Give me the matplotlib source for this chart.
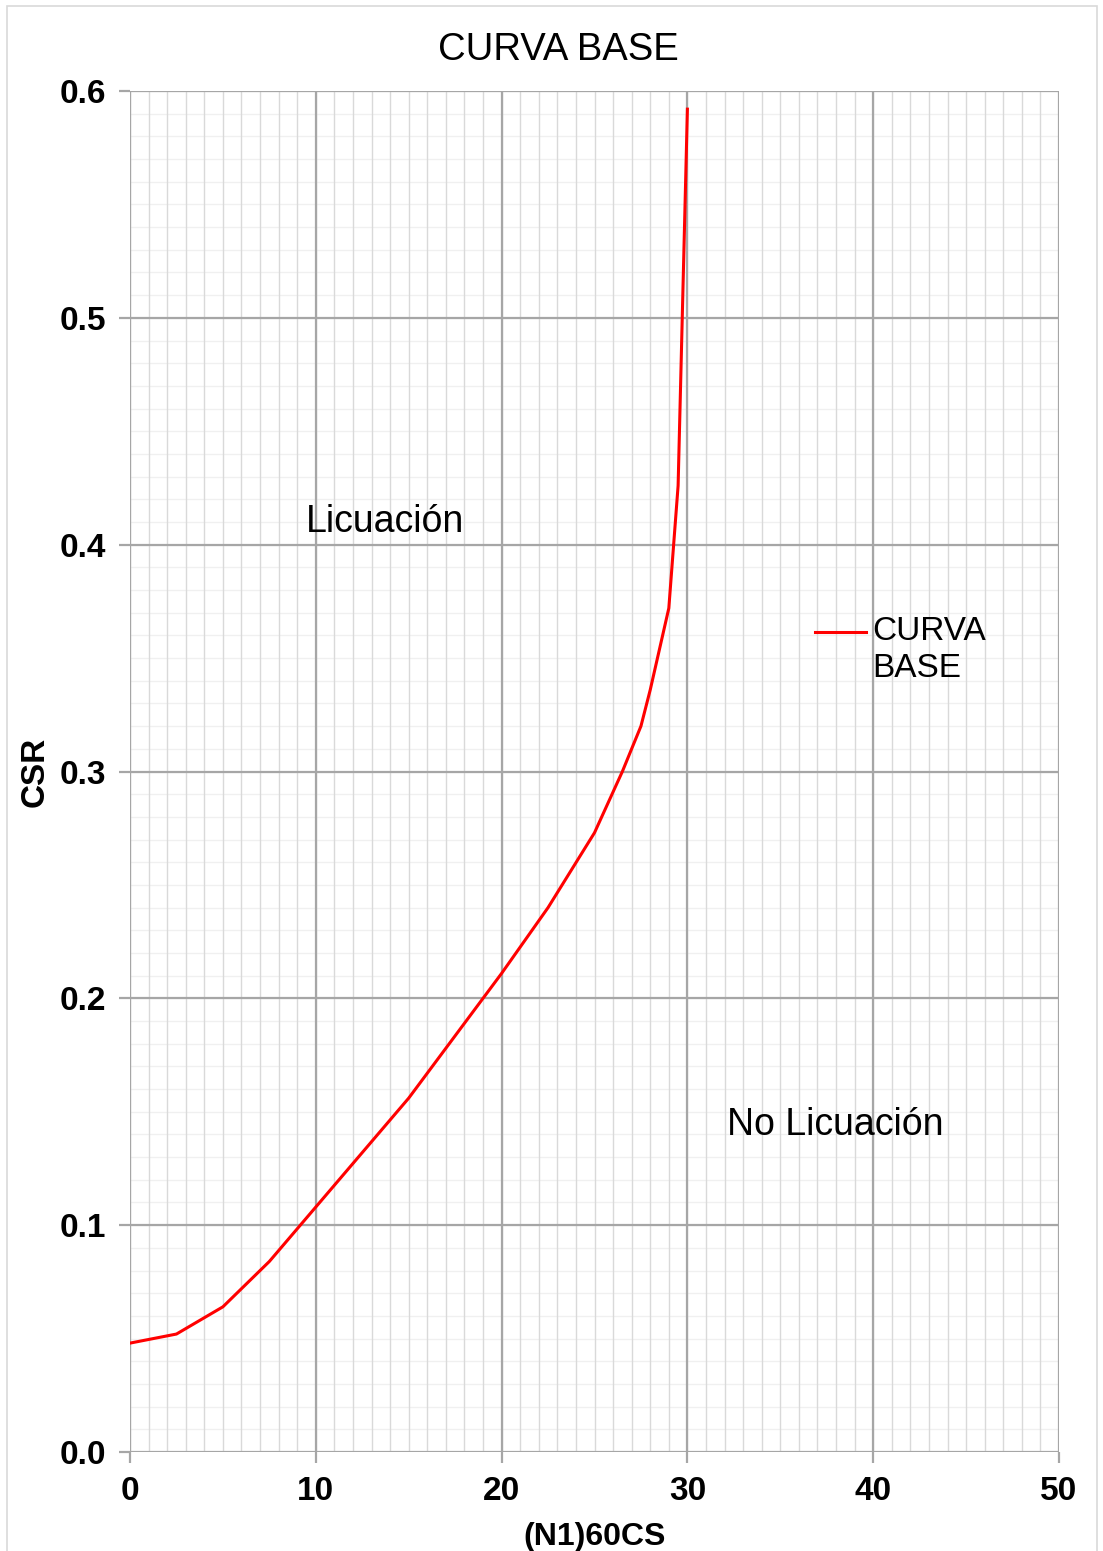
import matplotlib.pyplot as plt
from matplotlib.patches import Rectangle
from matplotlib.lines import Line2D
import numpy as np

plt.rcParams['font.family'] = ['Liberation Sans', 'DejaVu Sans']

# ------------------------------
# Data
# ------------------------------
n160cs = [0, 2.5, 5, 7.5, 10, 15, 20, 22.5, 25, 26.5, 27.5, 28, 29, 29.5, 30]
csr = [0.048, 0.052, 0.064, 0.084, 0.108, 0.156, 0.211, 0.240, 0.273,
       0.300, 0.320, 0.336, 0.372, 0.426, 0.592]

x_ticks = [0, 10, 20, 30, 40, 50]
y_ticks = [0.0, 0.1, 0.2, 0.3, 0.4, 0.5, 0.6]
y_labels = ["0.0", "0.1", "0.2", "0.3", "0.4", "0.5", "0.6"]

# ------------------------------
# Figure
# ------------------------------
fig = plt.figure(figsize=(11.03, 15.51), dpi=100)
ax = fig.add_axes([130 / 1103, 1 - 1452 / 1551, 929 / 1103, 1361 / 1551])

# outer chart border
fig.patches.append(Rectangle((7 / 1103, -0.01), 1090 / 1103, 1 - 6 / 1551 + 0.01,
                             transform=fig.transFigure, fill=False,
                             edgecolor='#d9d9d9', linewidth=1.2))

# grid
for v in np.arange(0, 0.6001, 0.01):
    ax.axhline(v, color='#f0f0f0', linewidth=1.0, zorder=0)
for v in np.arange(0, 51, 1):
    ax.axvline(v, color='#d9d9d9', linewidth=1.0, zorder=0.5)
for v in y_ticks:
    ax.axhline(v, color='#a6a6a6', linewidth=1.6, zorder=1)
for v in x_ticks:
    ax.axvline(v, color='#a6a6a6', linewidth=1.6, zorder=1)

ax.plot(n160cs, csr, color='#ff0000', linewidth=2.2, zorder=3)

ax.set_xlim(0, 50)
ax.set_ylim(0, 0.6)
ax.set_xticks(x_ticks)
ax.set_yticks(y_ticks)
ax.set_yticklabels(y_labels)
for s in ax.spines.values():
    s.set_visible(False)
ax.tick_params(axis='both', length=8, width=1.6, color='#a6a6a6',
               labelsize=24, pad=9)
for lbl in ax.get_xticklabels() + ax.get_yticklabels():
    lbl.set_fontweight('bold')

fig.text(558 / 1103, 1 - 50 / 1551, "CURVA BASE", fontsize=27.5,
         ha='center', va='center')
ax.set_xlabel("(N1)60CS", fontsize=23, fontweight='bold', labelpad=11)
ax.set_ylabel("CSR", fontsize=24, fontweight='bold', labelpad=7)

ax.text(9.47, 0.410, "Licuación", fontsize=27, va='center', ha='left')
ax.text(32.13, 0.144, "No Licuación", fontsize=27, va='center', ha='left')

# legend (key aligned with first text line, as in the original)
ax.add_line(Line2D([0.7374, 0.7922], [0.6025, 0.6025], transform=ax.transAxes,
                   color='#ff0000', linewidth=2.2, zorder=4))
ax.text(0.7987, 0.5893, "CURVA\nBASE", transform=ax.transAxes, fontsize=24,
        ha='left', va='center', linespacing=1.25, zorder=4)

plt.savefig("out.png", dpi=100)
